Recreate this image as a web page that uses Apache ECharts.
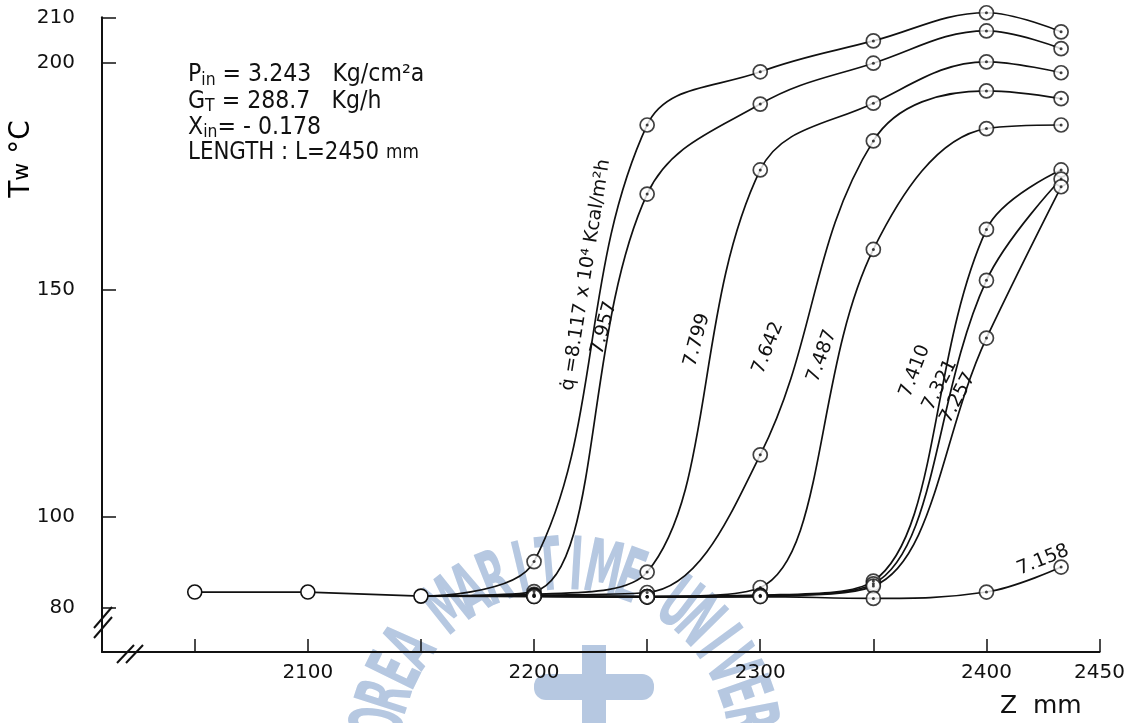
<!DOCTYPE html>
<html>
<head>
<meta charset="utf-8">
<script src="https://cdn.jsdelivr.net/npm/echarts@6/dist/echarts.min.js"></script>
<style>
  html, body { margin: 0; padding: 0; background: #fff; }
  #chart { width: 1128px; height: 723px; }
</style>
</head>
<body>
<div id="chart"></div>
<script>
// Axial positions along the heated tube (mm)
const zInlet = [2050, 2100, 2150];
const twInlet = [83.5, 83.5, 82.6];
const zStations = [2150, 2200, 2250, 2300, 2350, 2400, 2433];

// Wall temperature Tw (°C) at each station, one array per heat flux (x10^4 kcal/m2h)
const tw8117 = [82.6, 90.2, 186.3, 198.0, 204.8, 211.0, 206.8];
const tw7957 = [82.6, 83.6, 171.1, 190.9, 199.9, 207.0, 203.1];
const tw7799 = [82.6, 83.0, 87.9, 176.4, 191.1, 200.2, 197.8];
const tw7642 = [82.6, 82.8, 83.4, 113.7, 182.8, 193.8, 192.1];
const tw7487 = [82.6, 82.7, 82.5, 84.5, 158.9, 185.5, 186.3];
const tw7410 = [82.6, 82.6, 82.5, 82.8, 85.9, 163.3, 176.4];
const tw7321 = [82.6, 82.6, 82.5, 82.7, 85.3, 152.1, 174.4];
const tw7257 = [82.6, 82.6, 82.4, 82.6, 84.8, 139.4, 172.7];
const tw7158 = [82.6, 82.5, 82.4, 82.5, 82.1, 83.5, 89.0];

const fluxNames = ['8.117', '7.957', '7.799', '7.642', '7.487', '7.410', '7.321', '7.257', '7.158'];
const fluxTw = [tw8117, tw7957, tw7799, tw7642, tw7487, tw7410, tw7321, tw7257, tw7158];

// Axis ticks and labels
const xTickValues = [2050, 2100, 2150, 2200, 2250, 2300, 2350, 2400, 2450];
const xLabelValues = [2100, 2200, 2300, 2400, 2450];
const yTickValues = [80, 100, 150, 200, 210];

// Library stamp printed across the lower middle of the sheet
const stampText = 'KOREA MARITIME UNIVERSITY';

const FONT = 'DejaVu Sans';
const INK = '#111';
const STAMP = '#b6c8e1';

const chart = echarts.init(document.getElementById('chart'), null, { renderer: 'canvas' });

const lineSeries = fluxNames.map((name, k) => ({
  name: name,
  type: 'line',
  smooth: 0.38,
  symbol: 'none',
  clip: false,
  z: 2,
  silent: true,
  lineStyle: { color: INK, width: 1.7 },
  data: zStations.map((z, i) => [z, fluxTw[k][i]])
}));

// measuring stations downstream of the common inlet point
const stationPoints = [];
fluxTw.forEach(tw => zStations.forEach((z, i) => { if (i > 0) stationPoints.push([z, tw[i]]); }));

const inletSeries = {
  name: 'inlet',
  type: 'line',
  z: 3,
  clip: false,
  silent: true,
  symbol: 'circle',
  symbolSize: 14,
  itemStyle: { color: '#fff', borderColor: INK, borderWidth: 1.6 },
  lineStyle: { color: INK, width: 1.7 },
  data: zInlet.map((z, i) => [z, twInlet[i]])
};

const circleSeries = {
  name: 'stations',
  type: 'scatter',
  z: 3,
  clip: false,
  silent: true,
  symbol: 'circle',
  symbolSize: 14,
  itemStyle: { color: '#fff', borderColor: INK, borderWidth: 1.7 },
  data: stationPoints
};

const dotSeries = {
  name: 'station centres',
  type: 'scatter',
  z: 4,
  clip: false,
  silent: true,
  symbol: 'circle',
  symbolSize: 3,
  itemStyle: { color: INK },
  data: stationPoints
};

// rotated curve captions
function caption(text, x, y, deg, size) {
  return {
    type: 'text', x: x, y: y, rotation: deg * Math.PI / 180, z: 10,
    style: { text: text, fill: INK, font: size + 'px "' + FONT + '"', align: 'center', verticalAlign: 'middle' }
  };
}

const richBase = {
  b: { fontSize: 24, fontFamily: FONT, lineHeight: 28, color: INK },
  s: { fontSize: 17, fontFamily: FONT, lineHeight: 14, verticalAlign: 'bottom', color: INK },
  m: { fontSize: 19, fontFamily: FONT, lineHeight: 28, color: INK }
};
function infoLine(text, y, sx) {
  return {
    type: 'text', x: 188, y: y, z: 10, scaleX: sx,
    style: { text: text, rich: richBase, fill: INK, verticalAlign: 'middle', align: 'left' }
  };
}

function seg(x1, y1, x2, y2, w) {
  return { type: 'line', z: 10, shape: { x1: x1, y1: y1, x2: x2, y2: y2 }, style: { stroke: INK, lineWidth: w || 2 } };
}

// stamp letters laid out on an arc
function stampLetters() {
  const cx = 565, cy = 754, r = 184, start = 179, step = 8.4;
  const out = [];
  for (let i = 0; i < stampText.length; i++) {
    const ch = stampText[i];
    if (ch === ' ') continue;
    const a = (start - i * step) * Math.PI / 180;
    out.push({
      type: 'text', z: 0, silent: true,
      x: cx + r * Math.cos(a), y: cy - r * Math.sin(a),
      rotation: a - Math.PI / 2, scaleX: 0.5,
      style: { text: ch, fill: STAMP, font: 'bold 74px "' + FONT + '"', align: 'center', verticalAlign: 'middle' }
    });
  }
  return out;
}

const stampEmblem = [
  { type: 'rect', z: 0, silent: true, shape: { x: 582, y: 645, width: 24, height: 85 }, style: { fill: STAMP } },
  { type: 'rect', z: 0, silent: true, shape: { x: 534, y: 674, width: 120, height: 26, r: 12 }, style: { fill: STAMP } }
];

chart.setOption({
  animation: false,
  backgroundColor: '#fff',
  grid: { left: 102, right: 28, top: 17.3, bottom: 71, containLabel: false },
  xAxis: {
    type: 'value',
    min: 2009,
    max: 2450,
    axisLine: { onZero: false, lineStyle: { color: INK, width: 2 } },
    axisTick: { inside: true, length: 13, customValues: xTickValues, lineStyle: { color: INK, width: 1.5 } },
    axisLabel: { customValues: xLabelValues, margin: 11, color: INK, fontFamily: FONT, fontSize: 20, formatter: v => String(v) },
    splitLine: { show: false }
  },
  yAxis: {
    type: 'value',
    min: 70.3,
    max: 210,
    axisLine: { onZero: false, lineStyle: { color: INK, width: 2 } },
    axisTick: { inside: true, length: 14, customValues: yTickValues, lineStyle: { color: INK, width: 1.5 } },
    axisLabel: { customValues: yTickValues, margin: 27, color: INK, fontFamily: FONT, fontSize: 20, formatter: v => String(v) },
    splitLine: { show: false }
  },
  series: lineSeries.concat([inletSeries, circleSeries, dotSeries]),
  graphic: stampLetters().concat(stampEmblem, [
    // axis name texts
    {
      type: 'text', x: 22, y: 159, rotation: Math.PI / 2, z: 10,
      style: {
        text: '{t|T}{w|w}{t| °C}',
        rich: { t: { fontSize: 28, fontFamily: FONT, color: INK }, w: { fontSize: 22, fontFamily: FONT, color: INK } },
        align: 'center', verticalAlign: 'middle'
      }
    },
    {
      type: 'text', x: 1000, y: 706, z: 10,
      style: { text: 'Z  mm', fill: INK, font: '25px "' + FONT + '"', align: 'left', verticalAlign: 'middle' }
    },
    // test conditions
    infoLine('{b|P}{s|in}{b| = 3.243   Kg/cm²a}', 75, 0.92),
    infoLine('{b|G}{s|T}{b| = 288.7   Kg/h}', 101.5, 0.92),
    infoLine('{b|X}{s|in}{b|= - 0.178}', 127.5, 0.92),
    infoLine('{b|LENGTH : L=2450 }{m|mm}', 153, 0.89),
    // heat flux captions along the curves
    caption('q\u0307 =8.117 x 10\u2074 Kcal/m\u00B2h', 586, 275, 81, 19),
    caption('7.957', 604, 328, 75, 19),
    caption('7.799', 697, 340, 75, 19),
    caption('7.642', 768, 348, 68, 19),
    caption('7.487', 822, 356, 70, 19),
    caption('7.410', 915, 371, 69, 19),
    caption('7.321', 940, 385, 63, 19),
    caption('7.257', 958, 398, 62, 19),
    caption('7.158', 1043, 560, 22, 19),
    // axis break marks
    seg(94, 628, 112, 607),
    seg(94, 638, 112, 617),
    seg(117, 663, 134, 645),
    seg(126, 663, 143, 645)
  ])
});
</script>
</body>
</html>
